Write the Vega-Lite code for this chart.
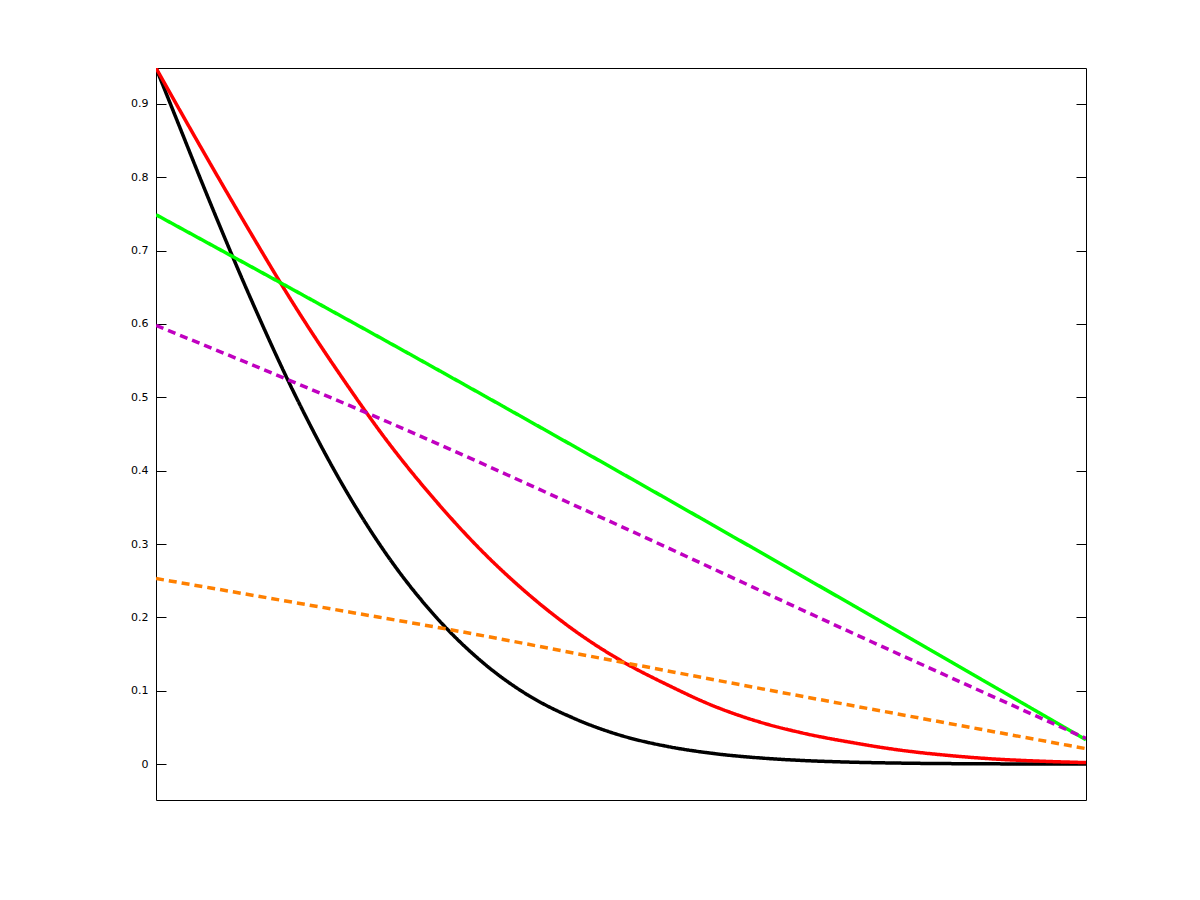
{
  "$schema": "https://vega.github.io/schema/vega-lite/v6.json",
  "width": 930,
  "height": 732,
  "autosize": "none",
  "padding": {"left": 156, "top": 68, "right": 114, "bottom": 100},
  "background": "white",
  "config": {"view": {"stroke": "black", "strokeWidth": 1}},
  "data": {"values": [
    {"s": "1black", "x": 0, "y": 0.949},
    {"s": "1black", "x": 0.025, "y": 0.87},
    {"s": "1black", "x": 0.05, "y": 0.791},
    {"s": "1black", "x": 0.1, "y": 0.64},
    {"s": "1black", "x": 0.15, "y": 0.502},
    {"s": "1black", "x": 0.2, "y": 0.382},
    {"s": "1black", "x": 0.25, "y": 0.282},
    {"s": "1black", "x": 0.3, "y": 0.202},
    {"s": "1black", "x": 0.35, "y": 0.14},
    {"s": "1black", "x": 0.4, "y": 0.094},
    {"s": "1black", "x": 0.45, "y": 0.062},
    {"s": "1black", "x": 0.5, "y": 0.039},
    {"s": "1black", "x": 0.55, "y": 0.024},
    {"s": "1black", "x": 0.6, "y": 0.0143},
    {"s": "1black", "x": 0.65, "y": 0.0083},
    {"s": "1black", "x": 0.7, "y": 0.0046},
    {"s": "1black", "x": 0.75, "y": 0.0025},
    {"s": "1black", "x": 0.8, "y": 0.0013},
    {"s": "1black", "x": 0.9, "y": 0.0003},
    {"s": "1black", "x": 1, "y": 0.0},
    {"s": "2red", "x": 0, "y": 0.949},
    {"s": "2red", "x": 0.05, "y": 0.837},
    {"s": "2red", "x": 0.1, "y": 0.728},
    {"s": "2red", "x": 0.15, "y": 0.623},
    {"s": "2red", "x": 0.2, "y": 0.527},
    {"s": "2red", "x": 0.25, "y": 0.438},
    {"s": "2red", "x": 0.3, "y": 0.36},
    {"s": "2red", "x": 0.35, "y": 0.291},
    {"s": "2red", "x": 0.4, "y": 0.232},
    {"s": "2red", "x": 0.45, "y": 0.182},
    {"s": "2red", "x": 0.5, "y": 0.141},
    {"s": "2red", "x": 0.55, "y": 0.108},
    {"s": "2red", "x": 0.6, "y": 0.079},
    {"s": "2red", "x": 0.65, "y": 0.057},
    {"s": "2red", "x": 0.7, "y": 0.041},
    {"s": "2red", "x": 0.75, "y": 0.029},
    {"s": "2red", "x": 0.8, "y": 0.019},
    {"s": "2red", "x": 0.85, "y": 0.012},
    {"s": "2red", "x": 0.9, "y": 0.007},
    {"s": "2red", "x": 0.95, "y": 0.004},
    {"s": "2red", "x": 1, "y": 0.002},
    {"s": "3green", "x": 0, "y": 0.749},
    {"s": "3green", "x": 0.25, "y": 0.575},
    {"s": "3green", "x": 0.5, "y": 0.397},
    {"s": "3green", "x": 0.75, "y": 0.216},
    {"s": "3green", "x": 1, "y": 0.033},
    {"s": "4purple", "x": 0, "y": 0.598},
    {"s": "4purple", "x": 0.25, "y": 0.466},
    {"s": "4purple", "x": 0.5, "y": 0.324},
    {"s": "4purple", "x": 0.75, "y": 0.178},
    {"s": "4purple", "x": 1, "y": 0.035},
    {"s": "5orange", "x": 0, "y": 0.253},
    {"s": "5orange", "x": 0.209, "y": 0.207},
    {"s": "5orange", "x": 0.313, "y": 0.184},
    {"s": "5orange", "x": 0.496, "y": 0.14},
    {"s": "5orange", "x": 0.671, "y": 0.098},
    {"s": "5orange", "x": 0.85, "y": 0.056},
    {"s": "5orange", "x": 1, "y": 0.021}
  ]},
  "layer": [
    {
      "mark": {"type": "line", "interpolate": "monotone", "clip": true},
      "encoding": {
        "x": {"field": "x", "type": "quantitative", "scale": {"domain": [0, 1], "nice": false, "zero": false}, "axis": null},
        "y": {"field": "y", "type": "quantitative", "scale": {"domain": [-0.049, 0.949], "nice": false, "zero": false},
          "axis": {"orient": "left", "values": [0, 0.1, 0.2, 0.3, 0.4, 0.5, 0.6, 0.7, 0.8, 0.9], "labelExpr": "datum.value == 0 ? '0' : format(datum.value, '.1f')", "grid": false, "domain": false, "tickSize": -10, "tickColor": "black", "tickWidth": 1, "labelPadding": 18, "labelFont": "DejaVu Sans", "labelFontSize": 11, "labelColor": "black", "title": null}},
        "color": {"field": "s", "type": "nominal", "legend": null, "scale": {"domain": ["1black", "2red", "3green", "4purple", "5orange"], "range": ["#000000", "#ff0000", "#00ff00", "#c000c0", "#ff8000"]}},
        "strokeWidth": {"field": "s", "type": "nominal", "legend": null, "scale": {"domain": ["1black", "2red", "3green", "4purple", "5orange"], "range": [3.5, 3.5, 3, 3, 3]}},
        "strokeDash": {"field": "s", "type": "nominal", "legend": null, "scale": {"domain": ["1black", "2red", "3green", "4purple", "5orange"], "range": [[1, 0], [1, 0], [1, 0], [8, 5], [8, 5]]}},
        "order": {"field": "x", "type": "quantitative"}
      }
    },
    {
      "mark": {"type": "line", "opacity": 0},
      "encoding": {
        "x": {"field": "x", "type": "quantitative", "scale": {"domain": [0, 1], "nice": false, "zero": false}, "axis": null},
        "y": {"field": "y", "type": "quantitative", "scale": {"domain": [-0.049, 0.949], "nice": false, "zero": false},
          "axis": {"orient": "right", "values": [0, 0.1, 0.2, 0.3, 0.4, 0.5, 0.6, 0.7, 0.8, 0.9], "labels": false, "grid": false, "domain": false, "tickSize": -10, "tickColor": "black", "tickWidth": 1, "title": null}},
        "detail": {"field": "s", "type": "nominal"}
      }
    }
  ],
  "resolve": {"axis": {"y": "independent"}}
}
